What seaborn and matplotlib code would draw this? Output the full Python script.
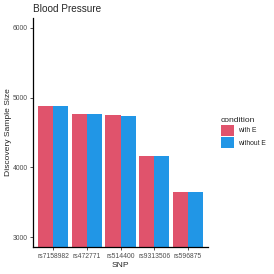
import matplotlib
matplotlib.use("Agg")
import matplotlib.pyplot as plt
import seaborn as sns
import pandas as pd

snps = ["rs7158982", "rs472771", "rs514400", "rs9313506", "rs596875"]
with_e = [4878, 4770, 4745, 4168, 3650]
without_e = [4878, 4770, 4740, 4168, 3650]
conditions = ["with E", "without E"]
colors = ["#E0536C", "#2196E6"]

df = pd.DataFrame({
    "SNP": snps * 2,
    "value": with_e + without_e,
    "condition": [conditions[0]] * len(snps) + [conditions[1]] * len(snps),
})

sns.set_theme(style="ticks")
plt.rcParams["font.family"] = ["Liberation Sans", "DejaVu Sans"]

fig = plt.figure(figsize=(2.74, 2.74), dpi=100)
ax = fig.add_axes([33/274, 1 - 247/274, (208-33)/274, (247-18)/274])
sns.barplot(data=df, x="SNP", y="value", hue="condition", palette=colors,
            width=0.9, ax=ax, saturation=1, linewidth=0)
ax.set_xlim(-0.6, 4.6)
ax.set_ylim(2860, 6140)
ax.set_yticks([3000, 4000, 5000, 6000])
ax.tick_params(axis="both", labelsize=4.9, colors="#333333", length=2, width=0.6, pad=2)
for lab in ax.get_xticklabels() + ax.get_yticklabels():
    lab.set_color("#4d4d4d")
ax.set_xlabel("SNP", fontsize=6.1)
ax.set_ylabel("Discovery Sample Size", fontsize=6.1)
ax.xaxis.set_label_coords(0.5, (247-262)/229)
ax.yaxis.set_label_coords((12-33)/175, 0.5)
ax.set_title("Blood Pressure", fontsize=7.2, loc="left", x=0.0, pad=4)
for s in ["top", "right"]:
    ax.spines[s].set_visible(False)
for s in ["left", "bottom"]:
    ax.spines[s].set_linewidth(0.9)
    ax.spines[s].set_color("black")
leg = ax.legend(title="condition", loc="center left", bbox_to_anchor=(1.045, 0.5),
                frameon=False, fontsize=4.9, title_fontsize=6.1,
                handlelength=2.0, handleheight=2.2, handletextpad=0.6,
                labelspacing=0.1, alignment="left", borderaxespad=0.3)
fig.savefig("out.png", dpi=100)
